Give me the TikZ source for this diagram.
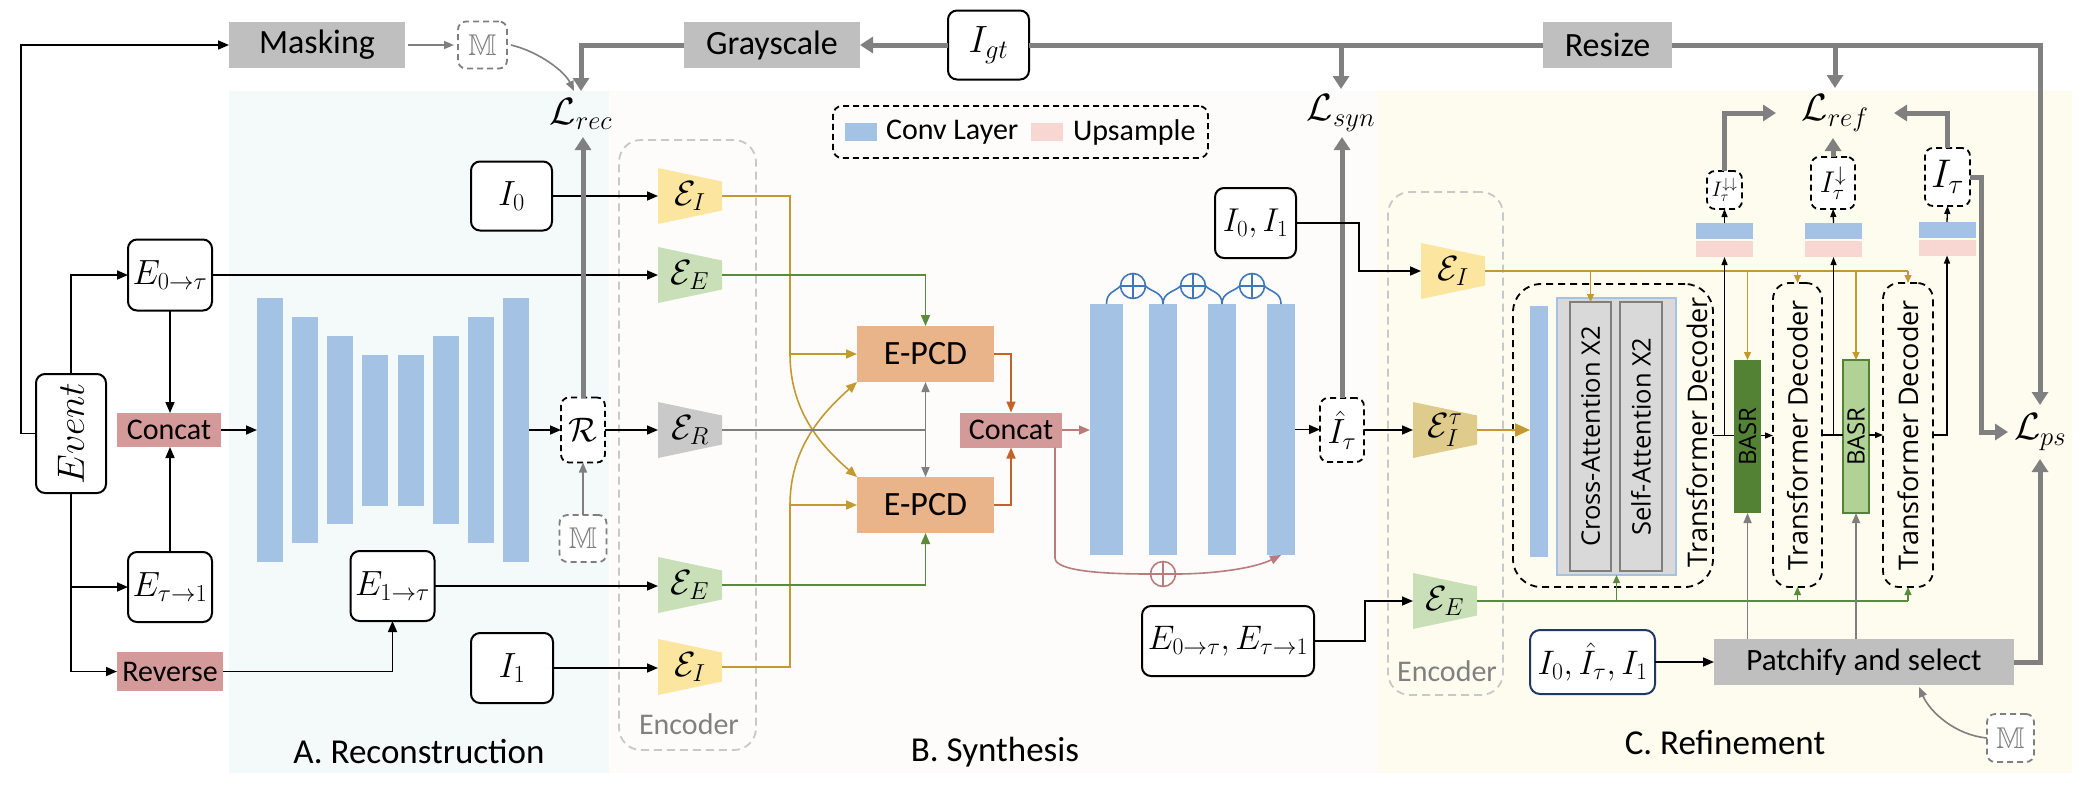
\documentclass[tikz,border=0pt]{standalone}
\usepackage{fix-cm}
\usepackage{amssymb}
\usepackage{graphicx}
\usepackage[no-math]{fontspec}
\setmainfont{Carlito}
\newfontfamily\osans{Open Sans}
\usetikzlibrary{arrows.meta,calc}
\definecolor{bgA}{HTML}{F4F9F9}
\definecolor{bgB}{HTML}{FDFCFA}
\definecolor{bgC}{HTML}{FEFCEF}
\definecolor{boxgray}{HTML}{BFBFBF}
\definecolor{lgray}{HTML}{808080}
\definecolor{mgray}{HTML}{7F7F7F}
\definecolor{encgray}{HTML}{C9C9C9}
\definecolor{convblue}{HTML}{A4C2E4}
\definecolor{uppink}{HTML}{F8D6D2}
\definecolor{concatpink}{HTML}{D49A9A}
\definecolor{epcd}{HTML}{EAB48A}
\definecolor{encyel}{HTML}{FCE59E}
\definecolor{encgrn}{HTML}{C8DFB8}
\definecolor{enctau}{HTML}{DFCB8C}
\definecolor{goldl}{HTML}{C29A30}
\definecolor{grnl}{HTML}{5A8A3C}
\definecolor{orgl}{HTML}{C5622A}
\definecolor{pinkl}{HTML}{B97C7C}
\definecolor{bluel}{HTML}{3F77BD}
\definecolor{basrdk}{HTML}{548235}
\definecolor{basrlt}{HTML}{B0D296}
\definecolor{attn}{HTML}{D9D9D9}
\definecolor{navy}{HTML}{1F3864}
\definecolor{encdash}{HTML}{C8C8C8}
\newcommand\fsz[1]{\fontsize{#1}{#1}\selectfont}
\newcommand\encnode[5]{%
  \fill[#4] ({#1-32},{#2-28}) -- ({#1+32},{#2-14.5}) -- ({#1+32},{#2+14.5}) -- ({#1-32},{#2+28}) -- cycle;
  \node[minimum width=64pt,minimum height=56pt,font=\fsz{35}] (#5) at (#1,#2) {#3};}
\begin{document}
\begin{tikzpicture}[x=1pt,y=-1pt,
  every node/.style={inner sep=0pt,outer sep=0pt},
  mbox/.style={draw=black,line width=2pt,rounded corners=9pt,fill=white,font=\fsz{35}},
  dbox/.style={draw=black,line width=1.8pt,dash pattern=on 6pt off 4pt,rounded corners=8pt,fill=white},
  mdbox/.style={draw=mgray,line width=1.8pt,dash pattern=on 6pt off 4pt,rounded corners=8pt,fill=white,text=mgray,font=\fsz{30}},
  gbox/.style={fill=boxgray,font=\fsz{34}},
  pbox/.style={fill=concatpink,font=\fsz{30}},
  encbox/.style={draw=encdash,line width=1.8pt,dash pattern=on 8pt off 5pt,rounded corners=22pt},
  tdbox/.style={draw=black,line width=1.8pt,dash pattern=on 7pt off 5pt,rounded corners=16pt},
  arr/.style={line width=1.6pt,-{Triangle[length=11pt,width=9pt]}},
  sarr/.style={line width=1.3pt,-{Triangle[length=8pt,width=6pt]}},
  garr/.style={line width=5pt,draw=lgray,-{Triangle[length=13pt,width=16pt]}},
  gline/.style={line width=5pt,draw=lgray},
  tgarr/.style={line width=1.6pt,draw=mgray,-{Triangle[length=10pt,width=8pt]}},
  golda/.style={line width=1.6pt,draw=goldl,-{Triangle[length=11pt,width=9pt]}},
  goldsa/.style={line width=1.3pt,draw=goldl,-{Triangle[length=8pt,width=7pt]}},
  grna/.style={line width=1.6pt,draw=grnl,-{Triangle[length=11pt,width=9pt]}},
  grnsa/.style={line width=1.3pt,draw=grnl,-{Triangle[length=8pt,width=7pt]}},
  orga/.style={line width=1.6pt,draw=orgl,-{Triangle[length=11pt,width=9pt]}},
  pinka/.style={line width=1.6pt,draw=pinkl,-{Triangle[length=11pt,width=9pt]}},
  lossl/.style={font=\fsz{38}},
  secl/.style={font=\fsz{35}},
  encl/.style={font=\fsz{30},text=lgray},
  rtext/.style={rotate=90,font=\osans\fsz{27}}]
\useasboundingbox (0,0) rectangle (2090,796);
% backgrounds
\fill[bgA] (229,91) rectangle (609,773);
\fill[bgB] (609,91) rectangle (1378,773);
\fill[bgC] (1378,91) rectangle (2072,773);

% top row
\node[gbox,minimum width=176pt,minimum height=46pt] (masking) at (317,45) {Masking};
\node[mdbox,minimum width=49pt,minimum height=47pt] (mtop) at (482.5,45) {$\mathbb{M}$};
\node[gbox,minimum width=176pt,minimum height=46pt] (gray) at (772,45) {Grayscale};
\node[mbox,minimum width=81pt,minimum height=69pt,font=\fsz{38}] (igt) at (988.5,45) {$I_{gt}$};
\node[gbox,minimum width=129pt,minimum height=46pt] (resize) at (1607.5,45) {Resize};
\node[lossl,minimum width=60pt,minimum height=46pt] (lrec) at (581,114) {$\mathcal{L}_{rec}$};
\node[lossl,minimum width=60pt,minimum height=48pt] (lsyn) at (1341,113) {$\mathcal{L}_{syn}$};
\node[lossl,minimum width=118pt,minimum height=50pt] (lref) at (1835,113) {$\mathcal{L}_{ref}$};
\node[lossl,minimum width=64pt,minimum height=54pt] (lps) at (2040,432) {$\mathcal{L}_{ps}$};

% legend
\node[draw=black,line width=1.8pt,dash pattern=on 6pt off 4pt,rounded corners=9pt,minimum width=375pt,minimum height=52pt] (legend) at (1020.5,132) {};
\node[fill=convblue,minimum width=32pt,minimum height=18pt] (lgc) at (861,132) {};
\node[anchor=west,font=\fsz{30}] (lgct) at (886,132) {Conv Layer};
\node[fill=uppink,minimum width=32pt,minimum height=18pt] (lgu) at (1047,132) {};
\node[anchor=west,font=\fsz{30}] (lgut) at (1073,132) {Upsample};

% ---------- A. Reconstruction ----------
\node[mbox,minimum width=70pt,minimum height=119pt] (event) at (71,433.5) {\rotatebox{90}{\fsz{38}$Event$}};
\node[mbox,minimum width=84pt,minimum height=71pt] (e0t) at (170,275) {$E_{0\to\tau}$};
\node[pbox,minimum width=104pt,minimum height=34pt] (concatA) at (169,430) {Concat};
\node[mbox,minimum width=84pt,minimum height=70pt] (et1) at (170,587) {$E_{\tau\to 1}$};
\node[pbox,minimum width=106pt,minimum height=39pt] (reverse) at (170,671.5) {Reverse};
\node[mbox,minimum width=84pt,minimum height=70pt] (e1t) at (392.5,586) {$E_{1\to\tau}$};
\node[mbox,minimum width=81pt,minimum height=69pt] (i0) at (511.5,196) {$I_0$};
\node[mbox,minimum width=82pt,minimum height=70pt] (i1) at (512,668) {$I_1$};
\foreach \i/\x/\h in {1/270/264,2/305/226,3/340/188,4/375/151,5/411/151,6/446/188,7/481/226,8/516/264}
  \node[fill=convblue,minimum width=26pt,minimum height=\h pt] (u\i) at (\x,430) {};
\node[dbox,minimum width=44pt,minimum height=65pt,font=\fsz{34}] (rbox) at (583,430) {$\mathcal{R}$};
\node[mdbox,minimum width=47pt,minimum height=47pt] (mmid) at (583,538.5) {$\mathbb{M}$};
\node[encbox,minimum width=137pt,minimum height=610pt] (encboxA) at (687.5,445) {};
\node[encl] (enclabA) at (689,724) {Encoder};
\encnode{690}{196}{$\mathcal{E}_I$}{encyel}{encI1}
\encnode{690}{275}{$\mathcal{E}_E$}{encgrn}{encE1}
\encnode{690}{430}{$\mathcal{E}_R$}{encgray}{encR}
\encnode{690}{585}{$\mathcal{E}_E$}{encgrn}{encE2}
\encnode{690}{667}{$\mathcal{E}_I$}{encyel}{encI2}
\node[secl] (labA) at (419,752) {A. Reconstruction};

% ---------- B. Synthesis ----------
\node[fill=epcd,minimum width=137pt,minimum height=56pt,font=\fsz{34}] (epcd1) at (925.5,354) {E-PCD};
\node[fill=epcd,minimum width=137pt,minimum height=56pt,font=\fsz{34}] (epcd2) at (925.5,505) {E-PCD};
\node[pbox,minimum width=102pt,minimum height=35pt] (concatB) at (1011,430) {Concat};
\node[fill=convblue,minimum width=33pt,minimum height=251pt] (sb1) at (1106.5,429.5) {};
\node[fill=convblue,minimum width=28pt,minimum height=251pt] (sb2) at (1163,429.5) {};
\node[fill=convblue,minimum width=28pt,minimum height=251pt] (sb3) at (1222,429.5) {};
\node[fill=convblue,minimum width=28pt,minimum height=251pt] (sb4) at (1281,429.5) {};
\foreach \i/\x in {1/1133,2/1193,3/1252}{
  \node[circle,draw=bluel,line width=1.6pt,fill=bgB,minimum size=25pt] (pc\i) at (\x,286) {};
  \draw[bluel,line width=1.6pt] (pc\i.north) -- (pc\i.south) (pc\i.west) -- (pc\i.east);}
\node[circle,draw=pinkl,line width=1.6pt,fill=bgB,minimum size=25pt] (pp) at (1163,574) {};
\draw[pinkl,line width=1.6pt] (pp.north) -- (pp.south) (pp.west) -- (pp.east);
\node[dbox,minimum width=44pt,minimum height=64pt,font=\fsz{35}] (ihat) at (1342,430) {$\hat{I}_\tau$};
\node[mbox,minimum width=81pt,minimum height=70pt,font=\fsz{33}] (i01) at (1255.5,223) {$I_0,I_1$};
\node[mbox,minimum width=172pt,minimum height=70pt,font=\fsz{34}] (e0te1) at (1228,641) {$E_{0\to\tau},E_{\tau\to 1}$};
\node[secl] (labB) at (995,752) {B. Synthesis};

% ---------- C. Refinement ----------
\node[encbox,minimum width=115pt,minimum height=503pt] (encboxC) at (1445.5,443.5) {};
\node[encl] (enclabC) at (1447,671) {Encoder};
\encnode{1453}{271}{$\mathcal{E}_I$}{encyel}{encI3}
\encnode{1445}{430}{$\mathcal{E}_I^{\tau}$}{enctau}{encIt}
\encnode{1445}{601}{$\mathcal{E}_E$}{encgrn}{encE3}
\node[draw=black,line width=1.8pt,dash pattern=on 7pt off 5pt,rounded corners=28pt,minimum width=200pt,minimum height=303pt] (td1) at (1613,435.5) {};
\node[fill=convblue,minimum width=18pt,minimum height=251pt] (tdbar) at (1539,431.5) {};
\node[fill=attn,draw=convblue,line width=1.6pt,minimum width=119pt,minimum height=277pt] (attn) at (1616.5,436.5) {};
\node[fill=attn,draw=mgray,line width=1.6pt,minimum width=41pt,minimum height=269pt] (cross) at (1590.5,436.5) {\rotatebox{90}{\osans\fsz{25.5}Cross-Attention X2}};
\node[fill=attn,draw=mgray,line width=1.6pt,minimum width=42pt,minimum height=269pt] (self) at (1641,436.5) {\rotatebox{90}{\osans\fsz{25.5}Self-Attention X2}};
\node[rtext] (td1t) at (1697,432) {Transformer Decoder};
\node[fill=basrdk,minimum width=27pt,minimum height=153pt] (basr1) at (1747.5,436.5) {\rotatebox{90}{\osans\fsz{24}BASR}};
\node[tdbox,minimum width=49pt,minimum height=304pt] (td2) at (1797.5,435) {\rotatebox{90}{\osans\fsz{27}Transformer Decoder}};
\node[fill=basrlt,draw=basrdk,line width=1.6pt,minimum width=26pt,minimum height=153pt] (basr2) at (1856,436.5) {\rotatebox{90}{\osans\fsz{24}BASR}};
\node[tdbox,minimum width=50pt,minimum height=304pt] (td3) at (1908,435) {\rotatebox{90}{\osans\fsz{27}Transformer Decoder}};
\node[fill=convblue,minimum width=57pt,minimum height=16pt] (up1b) at (1724.5,231) {};
\node[fill=uppink,minimum width=57pt,minimum height=16pt] (up1) at (1724.5,249) {};
\node[fill=convblue,minimum width=57pt,minimum height=16pt] (up2b) at (1833.5,231) {};
\node[fill=uppink,minimum width=57pt,minimum height=16pt] (up2) at (1833.5,249) {};
\node[fill=convblue,minimum width=57pt,minimum height=16pt] (up3b) at (1947,230) {};
\node[fill=uppink,minimum width=57pt,minimum height=16pt] (up3) at (1947,247.5) {};
\node[dbox,minimum width=35pt,minimum height=38pt,font=\fsz{21}] (box1) at (1724.5,190) {$I_\tau^{\downarrow\downarrow}$};
\node[dbox,minimum width=44pt,minimum height=52pt,font=\fsz{30}] (box2) at (1833,183) {$I_\tau^{\downarrow}$};
\node[dbox,minimum width=45pt,minimum height=58pt,font=\fsz{40}] (box3) at (1947.5,177) {$I_\tau$};
\node[gbox,minimum width=300pt,minimum height=46pt,font=\fsz{31}] (patch) at (1864,662) {Patchify and select};
\node[draw=navy,line width=2pt,rounded corners=10pt,fill=white,minimum width=125pt,minimum height=64pt,font=\fsz{34}] (i0hat1) at (1592.5,662) {$I_0,\hat{I}_\tau,I_1$};
\node[mdbox,minimum width=47pt,minimum height=48pt] (mbot) at (2010.5,738) {$\mathbb{M}$};
\node[secl] (labC) at (1725,743) {C. Refinement};

% ---------- connectors: top ----------
\draw[tgarr] ([xshift=3pt]masking.east) -- ([xshift=-4pt]mtop.west);
\draw[tgarr] ([xshift=4pt]mtop.east) .. controls (540,52) and (565,72) .. ([xshift=-7pt]lrec.north);
\draw[garr] (gray.west) -| (lrec.north);
\draw[garr] (igt.west) -- (gray.east);
\draw[gline] (igt.east) -- (resize.west);
\draw[garr] (resize.east) -| (lps.north);
\draw[garr] (igt.east -| lsyn.north) -- (lsyn.north);
\draw[garr] (resize.east -| lref.north) -- (lref.north);

% ---------- connectors: A ----------
\draw[arr] (event.west) -- ++(-15,0) |- (masking.west);
\draw[arr] (event.north) |- (e0t.west);
\draw[arr] (event.south) |- (reverse.west);
\draw[arr] (event.south |- et1.west) -- (et1.west);
\draw[arr] (e0t.south) -- (e0t.south |- concatA.north);
\draw[arr] (et1.north) -- (et1.north |- concatA.south);
\draw[arr] (reverse.east) -| (e1t.south);
\draw[arr] (concatA.east) -- (u1.west);
\draw[arr] (e0t.east) -- (e0t.east -| encE1.west);
\draw[arr] (i0.east) -- (i0.east -| encI1.west);
\draw[arr] (u8.east) -- (rbox.west);
\draw[arr] (rbox.east) -- (encR.west);
\draw[tgarr] (mmid.north) -- (rbox.south);
\draw[arr] (e1t.east) -- (e1t.east -| encE2.west);
\draw[arr] (i1.east) -- (i1.east -| encI2.west);
\draw[garr] (rbox.north) -- (rbox.north |- lrec.south);

% ---------- connectors: B ----------
\coordinate (ga) at (790,354);
\coordinate (gb) at (790,505);
\draw[goldl,line width=1.6pt] (encI1.east) -| (ga);
\draw[golda] (ga) -- (epcd1.west);
\draw[golda] (ga) .. controls (790,410) and (820,445) .. (epcd2.north west);
\draw[goldl,line width=1.6pt] (encI2.east) -| (gb);
\draw[golda] (gb) -- (epcd2.west);
\draw[golda] (gb) .. controls (790,450) and (820,415) .. (epcd1.south west);
\draw[grna] (encE1.east) -| (epcd1.north);
\draw[grna] (encE2.east) -| (epcd2.south);
\draw[mgray,line width=1.6pt] (encR.east) -- (encR.east -| epcd1.south);
\draw[mgray,line width=1.6pt,{Triangle[length=10pt,width=8pt]}-{Triangle[length=10pt,width=8pt]}] (epcd1.south) -- (epcd2.north);
\draw[orga] (epcd1.east) -| (concatB.north);
\draw[orga] (epcd2.east) -| (concatB.south);
\draw[pinka] (concatB.east) -- (concatB.east -| sb1.west);
\draw[pinkl,line width=1.6pt] ([xshift=-7pt]concatB.south east) -- (1055,558) .. controls (1055,572) and (1110,574) .. (pp.west);
\draw[pinka] (pp.east) .. controls (1215,574) and (1255,568) .. (sb4.south);
\draw[bluel,line width=1.6pt] (sb1.north) .. controls +(0,-12) and +(-6,6) .. (pc1.west);
\draw[bluel,line width=1.6pt] (pc1.east) .. controls +(6,6) and +(0,-12) .. (sb2.north);
\draw[bluel,line width=1.6pt] (sb2.north) .. controls +(0,-12) and +(-6,6) .. (pc2.west);
\draw[bluel,line width=1.6pt] (pc2.east) .. controls +(6,6) and +(0,-12) .. (sb3.north);
\draw[bluel,line width=1.6pt] (sb3.north) .. controls +(0,-12) and +(-6,6) .. (pc3.west);
\draw[bluel,line width=1.6pt] (pc3.east) .. controls +(6,6) and +(0,-12) .. (sb4.north);
\draw[arr] (sb4.east) -- (sb4.east -| ihat.west);
\draw[garr] (ihat.north) -- (ihat.north |- lsyn.south);

% ---------- connectors: C ----------
\draw[arr] (ihat.east) -- (ihat.east -| encIt.west);
\draw[arr] (i01.east) -- ++(63,0) |- (encI3.west);
\draw[arr] (e0te1.east) -- ++(51,0) |- (encE3.west);
\draw[goldl,line width=1.6pt] (encI3.east) -- (encI3.east -| td3.north);
\draw[goldsa] (encI3.east -| cross.north) -- (cross.north);
\draw[goldsa] (encI3.east -| basr1.north) -- (basr1.north);
\draw[goldsa] (encI3.east -| td2.north) -- (td2.north);
\draw[goldsa] (encI3.east -| basr2.north) -- (basr2.north);
\draw[goldsa] (encI3.east -| td3.north) -- (td3.north);
\draw[goldl,line width=2.2pt,-{Triangle[length=15pt,width=13pt]}] (encIt.east) -- (encIt.east -| tdbar.west);
\draw[grnl,line width=1.6pt] (encE3.east) -- (encE3.east -| td3.south);
\draw[grnsa] (encE3.east -| attn.south) -- (attn.south);
\draw[grnsa] (encE3.east -| td2.south) -- (td2.south);
\draw[grnsa] (encE3.east -| td3.south) -- (td3.south);
\draw[line width=1.3pt] (td1.east) -- (td1.east -| basr1.west);
\draw[sarr] (td1.east -| basr1.east) -- (td1.east -| td2.west);
\draw[sarr] (td1.east) -| (up1.south);
\draw[line width=1.3pt] (td2.east) -- (td2.east -| basr2.west);
\draw[sarr] (td2.east -| basr2.east) -- (td2.east -| td3.west);
\draw[sarr] (td2.east) -| (up2.south);
\draw[sarr] (td3.east) -| (up3.south);
\draw[sarr] (up1b.north) -- (box1.south);
\draw[sarr] (up2b.north) -- (box2.south);
\draw[sarr] (up3b.north) -- (box3.south);
\draw[garr] (box1.north) |- (lref.west);
\draw[garr] (box2.north) -- (box2.north |- lref.south);
\draw[garr] (box3.north) |- (lref.east);
\draw[garr] (box3.east) -- ++(11,0) |- (lps.west);
\draw[tgarr] (basr1.south |- patch.north) -- (basr1.south);
\draw[tgarr] (basr2.south |- patch.north) -- (basr2.south);
\draw[arr] (i0hat1.east) -- (patch.west);
\draw[garr] (patch.east) -| (lps.south);
\coordinate (pm) at (1919,687);
\draw[tgarr] (mbot.west) .. controls (1955,735) and (1930,712) .. (pm);
\end{tikzpicture}
\end{document}
